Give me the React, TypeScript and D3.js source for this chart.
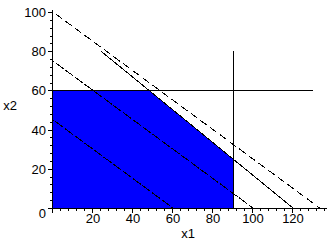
import React from "react";
import * as d3 from "d3";

const xTicks = [20, 40, 60, 80, 100, 120];
const yTicks = [0, 20, 40, 60, 80, 100];
const feasible: [number, number][] = [
  [0, 0],
  [0, 60],
  [48, 60],
  [90, 25],
  [90, 0],
];
// constraint lines (solid)
const constraintLines: [number, number][][] = [
  [[0, 60], [130, 60]],
  [[90, 0], [90, 80]],
  [[24, 80], [120, 0]],
];
// objective iso-lines 3x1 + 4x2 = c (dashed)
const objectiveLevels = [400, 300, 180];

const W = 329;
const H = 244;

export default function App() {
  const x = d3.scaleLinear().domain([0, 137]).range([53, 327]);
  const y = d3.scaleLinear().domain([0, 100]).range([208, 12]);
  const line = d3
    .line<[number, number]>()
    .x((d) => x(d[0]))
    .y((d) => y(d[1]));
  const minorX = d3.range(0, 137, 4);
  const minorY = d3.range(0, 101, 4);
  const font = "'Liberation Sans Narrow', 'Liberation Sans', Arial, sans-serif";
  return (
    <svg
      width={W}
      height={H}
      shapeRendering="crispEdges"
      style={{ position: "absolute", left: 0, top: 0, background: "#fff" }}
    >
      <path d={line(feasible)! + "Z"} fill="#0000ff" stroke="none" />
      {constraintLines.map((l, i) => (
        <path key={i} d={line(l)!} stroke="#000" strokeWidth={1} fill="none" />
      ))}
      {objectiveLevels.map((c, i) => (
        <path
          key={"o" + i}
          d={line([
            [0, c / 4],
            [c / 3, 0],
          ])!}
          stroke="#000"
          strokeWidth={1}
          fill="none"
          strokeDasharray={i === 0 ? "8,4" : "10,2"}
          strokeDashoffset={-3}
        />
      ))}
      {/* axes */}
      <line x1={x(0)} x2={327} y1={y(0) + 0.5} y2={y(0) + 0.5} stroke="#000" />
      <line x1={x(0) - 0.5} x2={x(0) - 0.5} y1={y(0)} y2={10} stroke="#000" />
      {minorX.map((t) => (
        <line
          key={"mx" + t}
          x1={Math.round(x(t)) - 0.5}
          x2={Math.round(x(t)) - 0.5}
          y1={y(0)}
          y2={y(0) + (t % 20 === 0 ? 5 : 3)}
          stroke="#000"
        />
      ))}
      {minorY.map((t) => (
        <line
          key={"my" + t}
          x1={x(0)}
          x2={x(0) - (t % 20 === 0 ? 5 : 3)}
          y1={Math.round(y(t)) + 0.5}
          y2={Math.round(y(t)) + 0.5}
          stroke="#000"
        />
      ))}
      <line x1={x(0)} x2={x(0) - 5} y1={Math.round(y(100)) + 0.5} y2={Math.round(y(100)) + 0.5} stroke="#000" />
      {xTicks.map((t) => (
        <text key={"tx" + t} x={x(t)} y={223} textAnchor="middle" fontFamily={font} fontSize={13}>
          {t}
        </text>
      ))}
      {yTicks.map((t) => (
        <text
          key={"ty" + t}
          x={46}
          y={t === 0 ? 218 : y(t) + 5}
          textAnchor="end"
          fontFamily={font}
          fontSize={13}
        >
          {t}
        </text>
      ))}
      <text x={188} y={238} textAnchor="middle" fontFamily={font} fontSize={13}>
        x1
      </text>
      <text x={10} y={110} textAnchor="middle" fontFamily={font} fontSize={13}>
        x2
      </text>
    </svg>
  );
}
